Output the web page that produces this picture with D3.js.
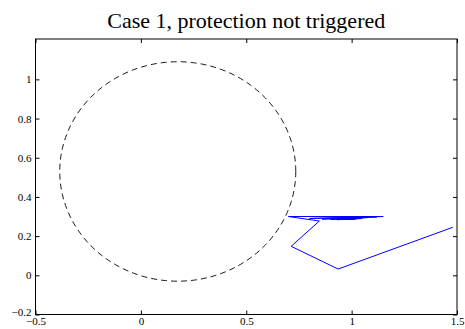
<!DOCTYPE html>
<html><head><meta charset="utf-8">
<script src="https://cdn.jsdelivr.net/npm/d3@7"></script>
<style>body{margin:0;background:#fff}svg{display:block}</style>
</head><body>
<svg id="c" width="465" height="329"></svg>
<script>
const xTicks = [-0.5, 0, 0.5, 1, 1.5];
const xTickLabels = ["\u22120.5", "0", "0.5", "1", "1.5"];
const yTicks = [-0.2, 0, 0.2, 0.4, 0.6, 0.8, 1];
const yTickLabels = ["\u22120.2", "0", "0.2", "0.4", "0.6", "0.8", "1"];
const circleCenter = [0.175, 0.53];
const circleRadius = 0.56;
const trajX = [1.48, 0.936, 0.713, 0.847, 0.700, 1.150, 0.800, 1.120, 0.860, 1.080, 0.900, 1.050, 0.930, 1.020, 0.970];
const trajY = [0.245, 0.032, 0.148, 0.277, 0.300, 0.300, 0.290, 0.298, 0.287, 0.295, 0.285, 0.290, 0.284, 0.287, 0.285];
const title = "Case 1, protection not triggered";

const svg = d3.select("#c");
const L = 35.5, R = 457, T = 39, B = 314.5;
const x = d3.scaleLinear().domain([-0.5, 1.5]).range([L, R]);
const y = d3.scaleLinear().domain([-0.2, 1.206]).range([B, T]);

// circle
const angles = d3.range(0, 361, 2).map(a => a * Math.PI / 180);
const circ = angles.map(a => [circleCenter[0] + circleRadius * Math.cos(a), circleCenter[1] + circleRadius * Math.sin(a)]);
const line = d3.line().x(d => x(d[0])).y(d => y(d[1]));
svg.append("path").attr("d", line(circ)).attr("fill", "none").attr("stroke", "#000")
  .attr("stroke-width", 0.9).attr("stroke-dasharray", "6,4");

// trajectory
const traj = trajX.map((v, i) => [v, trajY[i]]);
svg.append("path").attr("d", line(traj)).attr("fill", "none").attr("stroke", "#0000ff").attr("stroke-width", 1);

// axes box
const font = "'Liberation Serif', 'Times New Roman', serif";
const gB = svg.append("g").attr("transform", `translate(0,${B})`)
  .call(d3.axisBottom(x).tickValues(xTicks).tickFormat((d, i) => xTickLabels[i]).tickSizeInner(-4).tickSizeOuter(0).tickPadding(4));
const gT = svg.append("g").attr("transform", `translate(0,${T})`)
  .call(d3.axisTop(x).tickValues(xTicks).tickFormat("").tickSizeInner(-4).tickSizeOuter(0));
const gL = svg.append("g").attr("transform", `translate(${L},0)`)
  .call(d3.axisLeft(y).tickValues(yTicks).tickFormat((d, i) => yTickLabels[i]).tickSizeInner(-4).tickSizeOuter(0).tickPadding(4));
const gR = svg.append("g").attr("transform", `translate(${R},0)`)
  .call(d3.axisRight(y).tickValues(yTicks).tickFormat("").tickSizeInner(-4).tickSizeOuter(0));
[gB, gT, gL, gR].forEach(g => {
  g.select(".domain").remove();
  g.selectAll("line").attr("stroke", "#000");
  g.selectAll("text").attr("font-family", font).attr("font-size", 11).attr("fill", "#000");
});
gB.selectAll("text").attr("dy", "0.62em");
gL.selectAll("text").filter(d => d === -0.2).attr("dy", "0.05em");
svg.append("rect").attr("x", L).attr("y", T).attr("width", R - L).attr("height", B - T)
  .attr("fill", "none").attr("stroke", "#000").attr("stroke-width", 1);

svg.append("text").attr("x", (L + R) / 2).attr("y", 28).attr("text-anchor", "middle")
  .attr("font-family", font).attr("font-size", 22).attr("fill", "#000").text(title);
</script>
</body></html>
